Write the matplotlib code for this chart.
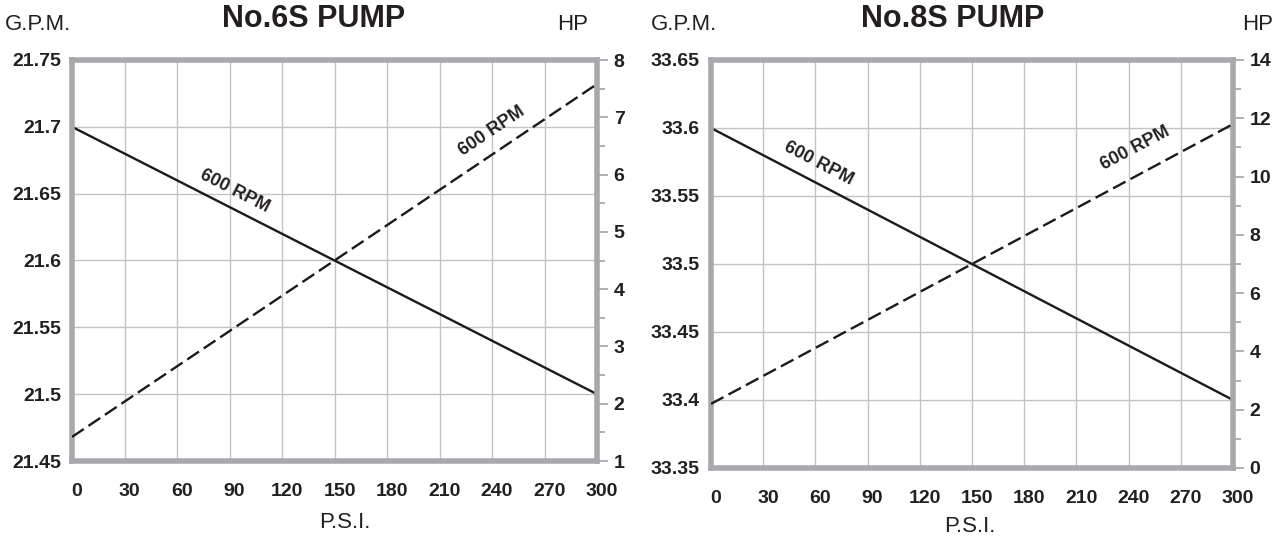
import matplotlib.pyplot as plt
import matplotlib.transforms as mtransforms
import numpy as np

plt.rcParams['font.family'] = ['Liberation Sans', 'DejaVu Sans']

# data
psi = [0, 300]
psi_ticks = [0, 30, 60, 90, 120, 150, 180, 210, 240, 270, 300]

gpm_6s = [21.7, 21.5]
hp_6s = [1.42, 7.58]
gpm_6s_ticks = [21.45, 21.5, 21.55, 21.6, 21.65, 21.7, 21.75]
gpm_6s_labels = ['21.45', '21.5', '21.55', '21.6', '21.65', '21.7', '21.75']
hp_6s_ticks = [1, 2, 3, 4, 5, 6, 7, 8]

gpm_8s = [33.6, 33.4]
hp_8s = [2.2, 11.8]
gpm_8s_ticks = [33.35, 33.4, 33.45, 33.5, 33.55, 33.6, 33.65]
gpm_8s_labels = ['33.35', '33.4', '33.45', '33.5', '33.55', '33.6', '33.65']
hp_8s_ticks = [0, 2, 4, 6, 8, 10, 12, 14]

TXT = '#231f20'
SPINE = '#a7a9ac'
GRID = '#c2c3c5'
LINE = '#1a1a1a'

fig = plt.figure(figsize=(12.86, 5.41), dpi=100)


def panel(rect, gpm, hp, gticks, glabels, hticks, hminor, title, labels, xs):
    ax = fig.add_axes(rect)
    ax.set_xlim(0, 300)
    ax.set_ylim(gticks[0], gticks[-1])
    ax.set_xticks(psi_ticks)
    ax.set_yticks(gticks)
    ax.set_yticklabels(glabels)
    ax.grid(True, color=GRID, lw=1.0)
    ax.set_axisbelow(True)
    for s in ax.spines.values():
        s.set_color(SPINE)
        s.set_linewidth(4)
    ax.tick_params(axis='both', length=0, labelsize=14, colors=TXT)
    ax.tick_params(axis='x', pad=16)
    ax.tick_params(axis='y', pad=8)
    for t in ax.get_xticklabels() + ax.get_yticklabels():
        t.set_fontweight('bold')
    off = mtransforms.ScaledTranslation(5 / 100, 0, fig.dpi_scale_trans)
    for t in ax.get_xticklabels():
        t.set_transform(t.get_transform() + off)

    ax.plot(psi, gpm, color=LINE, lw=1.7, solid_capstyle='butt')

    ax2 = ax.twinx()
    ax2.set_ylim(hticks[0], hticks[-1])
    ax2.set_yticks(hticks)
    ax2.set_yticks(np.arange(hticks[0], hticks[-1] + 0.01, hminor), minor=True)
    for s in ax2.spines.values():
        s.set_visible(False)
    ax2.tick_params(axis='y', which='both', direction='out', color=SPINE, width=1.3,
                    labelsize=14, labelcolor=TXT, pad=4)
    ax2.tick_params(axis='y', which='major', length=8)
    ax2.tick_params(axis='y', which='minor', length=6)
    for t in ax2.get_yticklabels():
        t.set_fontweight('bold')
    ax2.plot(psi, hp, color=LINE, lw=1.7, dashes=(6, 2.4))

    for (x, y, rot) in labels:
        ax.text(x, y, '600 RPM', rotation=rot, ha='center', va='center',
                fontsize=13, fontweight='bold', color=TXT)

    x0, xt, xh = xs
    fig.text(x0, 1 - 25 / 541, 'G.P.M.', fontsize=16, color=TXT, va='center')
    fig.text(xt, 1 - 19 / 541, title, fontsize=22, fontweight='bold', color=TXT,
             ha='center', va='center')
    fig.text(xh, 1 - 25 / 541, 'HP', fontsize=16, color=TXT, va='center')
    return ax


panel([72 / 1286, 1 - 461 / 541, 525 / 1286, 401 / 541], gpm_6s, hp_6s,
      gpm_6s_ticks, gpm_6s_labels, hp_6s_ticks, 0.5, 'No.6S PUMP',
      [(93, 21.652, -27), (240, 21.697, 34)],
      (5 / 1286, 314 / 1286, 557 / 1286))
fig.text(345 / 1286, 1 - 522 / 541, 'P.S.I.', fontsize=16, color=TXT,
         ha='center', va='center')

panel([711 / 1286, 1 - 468 / 541, 522 / 1286, 408 / 541], gpm_8s, hp_8s,
      gpm_8s_ticks, gpm_8s_labels, hp_8s_ticks, 1, 'No.8S PUMP',
      [(62, 33.574, -27.5), (244, 33.585, 28)],
      (651 / 1286, 953 / 1286, 1242 / 1286))
fig.text(970 / 1286, 1 - 527 / 541, 'P.S.I.', fontsize=16, color=TXT,
         ha='center', va='center')

fig.savefig('out.png', dpi=100)
